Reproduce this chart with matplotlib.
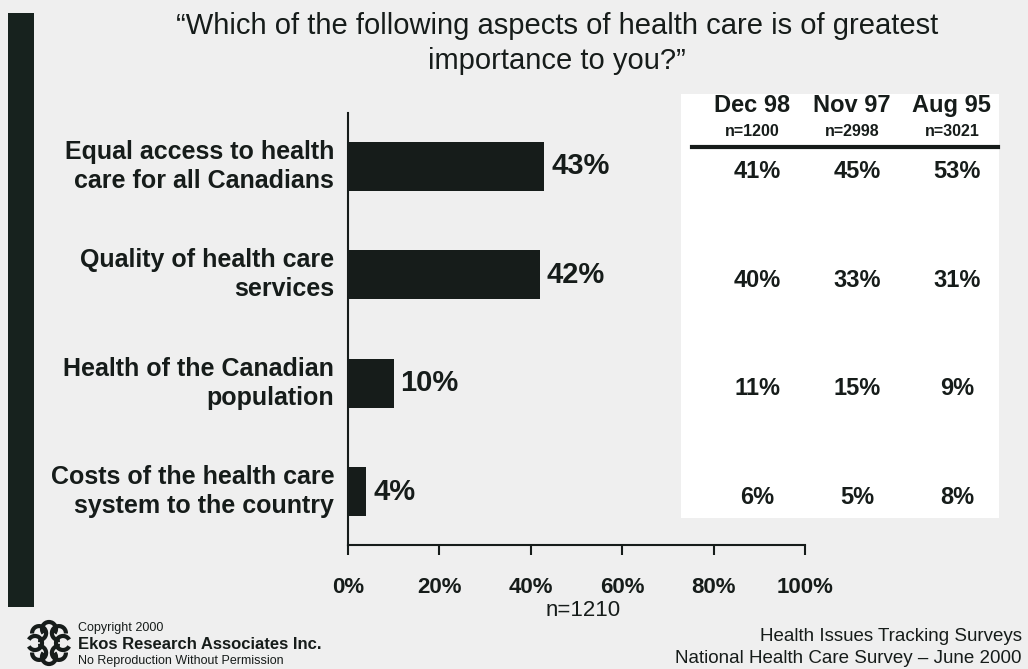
import numpy as np
import matplotlib.pyplot as plt
from matplotlib import transforms
from matplotlib.patches import Rectangle, Arc

plt.rcParams['font.family'] = ['Liberation Sans', 'DejaVu Sans']

# survey data
aspects = ['Equal access to health\ncare for all Canadians',
           'Quality of health care\nservices',
           'Health of the Canadian\npopulation',
           'Costs of the health care\nsystem to the country']
jun00 = [43, 42, 10, 4]
past_waves = ['Dec 98', 'Nov 97', 'Aug 95']
past_n = ['n=1200', 'n=2998', 'n=3021']
past_values = [[41, 40, 11, 6],
               [45, 33, 15, 5],
               [53, 31, 9, 8]]
xticks = [0, 20, 40, 60, 80, 100]

ink = '#161c1a'
paper = '#efefef'

fig = plt.figure(figsize=(10.28, 6.69), dpi=100, facecolor=paper)

# white panel behind the table of earlier waves
fig.patches.append(Rectangle((0.662, 0.225), 0.31, 0.635, transform=fig.transFigure,
                             facecolor='white', edgecolor='none', zorder=-5))

ax = fig.add_axes([0.3385, 0.1854, 0.4445, 0.6456])
ax.set_facecolor('none')

ypos = np.arange(len(aspects))
ax.barh(ypos, jun00, height=0.45, color=ink)
for y, v in zip(ypos, jun00):
    ax.text(v + 1.5, y, f'{v}%', va='center', ha='left', fontsize=21,
            fontweight='bold', color=ink)

ax.set_xlim(0, 100)
ax.set_ylim(3.49, -0.49)
ax.set_yticks([])
ax.set_xticks(xticks)
ax.set_xticklabels([f'{t}%' for t in xticks], fontsize=16, fontweight='bold', color=ink)
ax.tick_params(axis='x', direction='out', length=7, width=1.5, pad=16, colors=ink)
for s in ['top', 'right']:
    ax.spines[s].set_visible(False)
for s in ['left', 'bottom']:
    ax.spines[s].set_linewidth(1.5)
    ax.spines[s].set_color(ink)

# category labels to the left of the axis
for y, lab in zip(ypos, aspects):
    ax.text(-3, y, lab, ha='right', va='center', fontsize=18, fontweight='bold',
            color=ink, linespacing=1.25)

fig.text(0.567, 0.088, 'n=1210', ha='center', va='center', fontsize=16, color=ink)

# table of earlier waves
col_x = [0.732, 0.829, 0.926]
blend = transforms.blended_transform_factory(fig.transFigure, ax.transData)
for cx, wave, n, vals in zip(col_x, past_waves, past_n, past_values):
    fig.text(cx, 0.842, wave, ha='center', va='center', fontsize=17, fontweight='bold', color=ink)
    fig.text(cx, 0.803, n, ha='center', va='center', fontsize=11.5, fontweight='bold', color=ink)
    for y, v in zip(ypos, vals):
        ax.text(cx + 0.005, y + 0.05, f'{v}%', transform=blend, ha='center', va='center',
                fontsize=17, fontweight='bold', color=ink)
fig.add_artist(plt.Line2D([0.673, 0.971], [0.781, 0.781], transform=fig.transFigure,
                          color=ink, linewidth=3))

# title
fig.text(0.542, 0.935, '\u201cWhich of the following aspects of health care is of greatest\nimportance to you?\u201d',
         ha='center', va='center', fontsize=21, color=ink, linespacing=1.3)

# dark band on the left edge
fig.patches.append(Rectangle((0.008, 0.093), 0.025, 0.888, transform=fig.transFigure,
                             facecolor='#17221e', edgecolor='none'))

# logo: ring of curls
cx0, cy0 = 49, 643
for k in range(8):
    a = 2 * np.pi * k / 8
    x = cx0 + 14 * np.cos(a)
    y = cy0 + 14 * np.sin(a)
    arc = Arc((x / 1028, 1 - y / 669), 14 / 1028, 14 / 669, theta1=np.degrees(a) + 40,
              theta2=np.degrees(a) + 320, transform=fig.transFigure, color=ink, linewidth=3)
    fig.add_artist(arc)

fig.text(0.076, 0.062, 'Copyright 2000', fontsize=9, color=ink, va='center')
fig.text(0.076, 0.036, 'Ekos Research Associates Inc.', fontsize=12, fontweight='bold', color=ink, va='center')
fig.text(0.076, 0.012, 'No Reproduction Without Permission', fontsize=9, color=ink, va='center')
fig.text(0.994, 0.049, 'Health Issues Tracking Surveys', ha='right', va='center', fontsize=13.5, color=ink)
fig.text(0.994, 0.015, 'National Health Care Survey \u2013 June 2000', ha='right', va='center', fontsize=13.5, color=ink)

fig.savefig('out.png', dpi=100, facecolor=paper)
